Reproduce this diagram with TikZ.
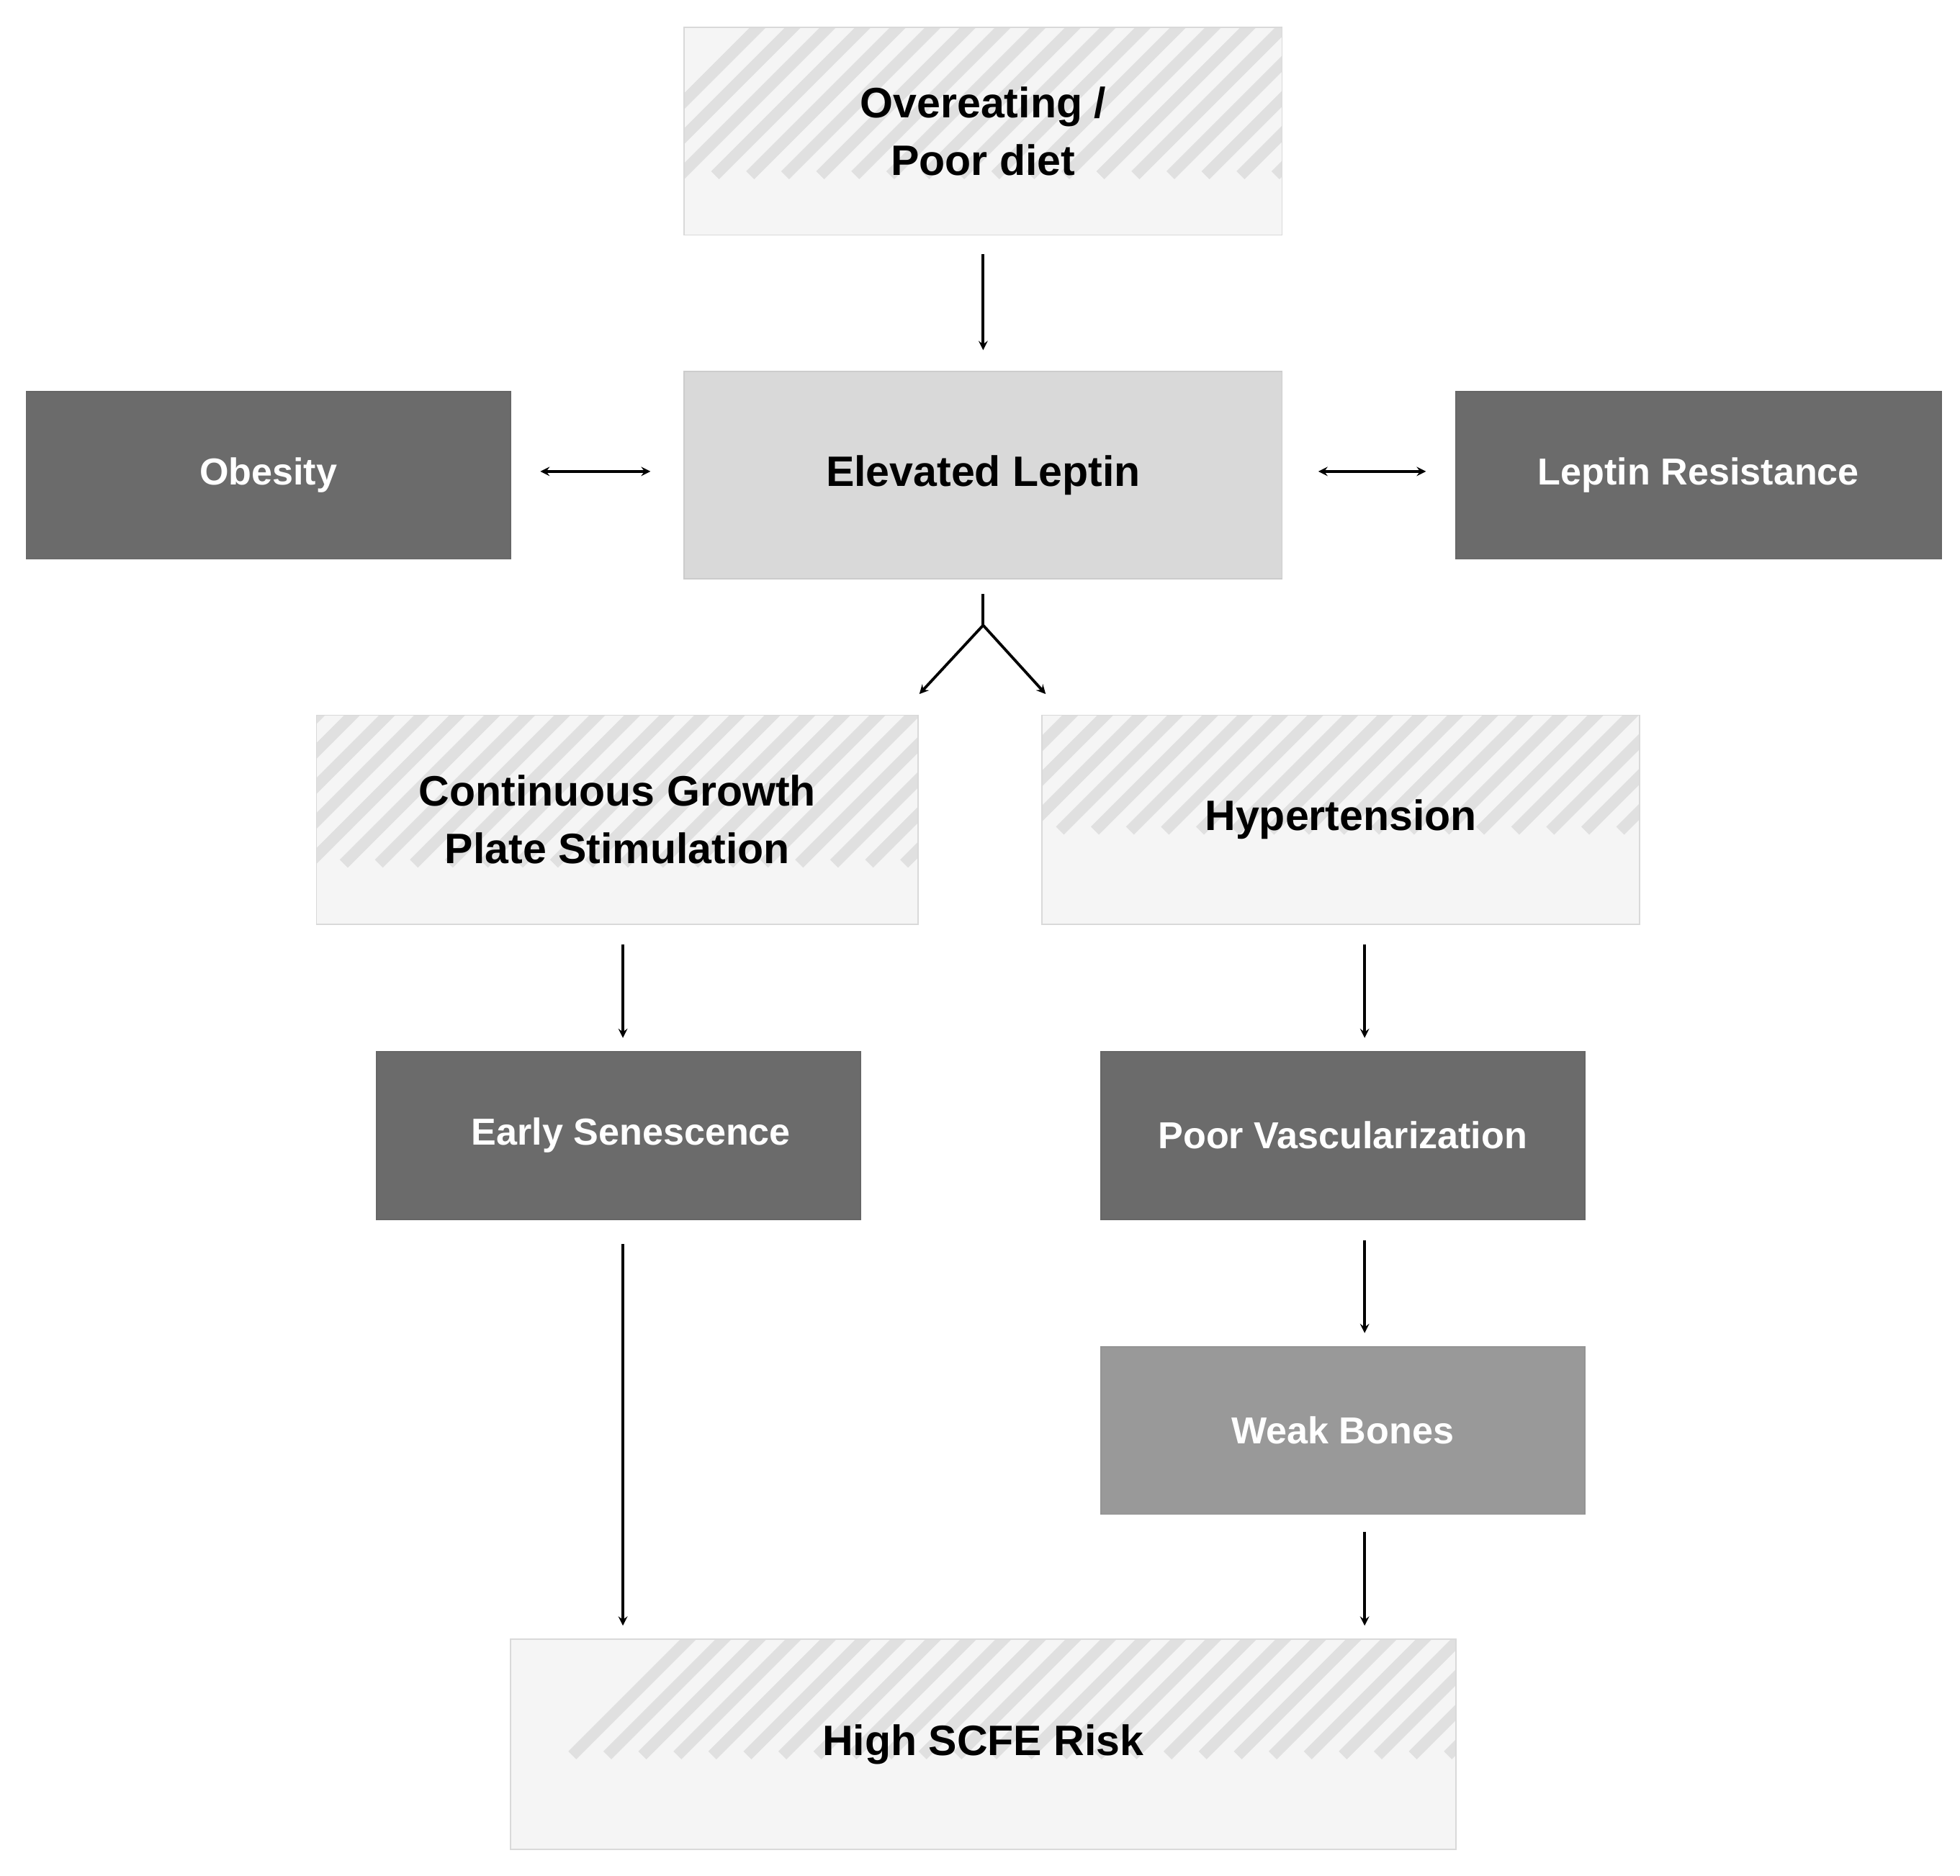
\documentclass[tikz,border=0pt]{standalone}
\usepackage{fontspec}
\setmainfont{Liberation Sans}
\begin{document}
\begin{tikzpicture}[x=1pt,y=-1pt,
 box/.style={draw=#1,line width=1pt,inner sep=0pt,align=center,font=\bfseries\fontsize{34}{46}\selectfont},
 hatch/.style={box=black!15,fill=black!4,path picture={
   \begin{scope}[shift={(path picture bounding box.south west)}]
   \foreach \i in {-200,-172,...,800} \draw[black!12,line width=9pt] (\i,0) -- ++(240,-240);
   \end{scope}}},
 dark/.style={box=black!60,fill=black!58,text=white,font=\bfseries\fontsize{30}{40}\selectfont},
 mid/.style={box=black!42,fill=black!40,text=white,font=\bfseries\fontsize{30}{40}\selectfont},
 light/.style={box=black!20,fill=black!15},
 arr/.style={-stealth,line width=2.2pt,shorten >=0pt},
 darr/.style={stealth-stealth,line width=2.2pt}]
\useasboundingbox (0,0) rectangle (1567,1500);
\node[hatch,minimum width=478,minimum height=166] (over) at (786,105) {Overeating /\\Poor diet};
\node[light,minimum width=478,minimum height=166] (lep) at (786,380) {Elevated Leptin};
\node[dark,minimum width=387,minimum height=134] (ob) at (214.5,380) {Obesity};
\node[dark,minimum width=388,minimum height=134] (lr) at (1358,380) {Leptin Resistance};
\node[hatch,minimum width=481,minimum height=167] (cg) at (493.5,655.5) {Continuous Growth\\Plate Stimulation};
\node[hatch,minimum width=478,minimum height=167] (hy) at (1072,655.5) {Hypertension};
\node[dark,minimum width=387,minimum height=134] (es) at (494.5,908) {\hspace{20pt}Early Senescence};
\node[dark,minimum width=387,minimum height=134] (pv) at (1073.5,908) {Poor Vascularization};
\node[mid,minimum width=387,minimum height=134] (wb) at (1073.5,1144) {Weak Bones};
\node[hatch,minimum width=756,minimum height=168] (hs) at (786,1395) {High SCFE Risk};
\coordinate (a1) at (786,203); \coordinate (a2) at (786,280);
\draw[arr] (a1) -- (a2);
\coordinate (o1) at (432,377); \coordinate (o2) at (520,377);
\draw[darr] (o1) -- (o2);
\coordinate (r1) at (1054,377); \coordinate (r2) at (1140,377);
\draw[darr] (r1) -- (r2);
\coordinate (b0) at (786,475); \coordinate (b1) at (786,500);
\coordinate (bl) at (735,555); \coordinate (br) at (836,555);
\draw[line width=2.2pt] (b0) -- (b1);
\draw[arr] (b1) -- (bl);
\draw[arr] (b1) -- (br);
\coordinate (c1) at (498,755); \coordinate (c2) at (498,830);
\draw[arr] (c1) -- (c2);
\coordinate (h1) at (1091,755); \coordinate (h2) at (1091,830);
\draw[arr] (h1) -- (h2);
\coordinate (e1) at (498,995); \coordinate (e2) at (498,1300);
\draw[arr] (e1) -- (e2);
\coordinate (p1) at (1091,992); \coordinate (p2) at (1091,1066);
\draw[arr] (p1) -- (p2);
\coordinate (w1) at (1091,1225); \coordinate (w2) at (1091,1300);
\draw[arr] (w1) -- (w2);
\end{tikzpicture}
\end{document}
